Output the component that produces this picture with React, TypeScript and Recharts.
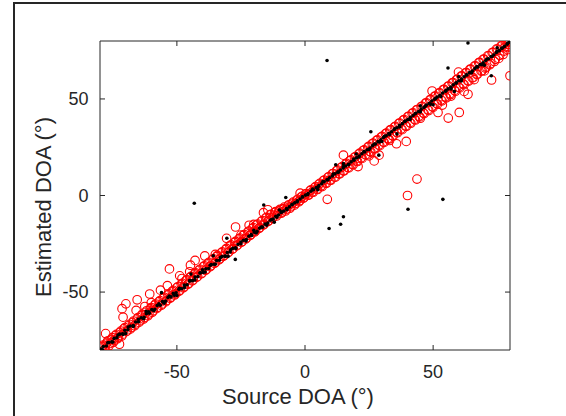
import { Scatter, ScatterChart, XAxis, YAxis } from "recharts";

const TICKS = [-50, 0, 50];
const DOMAIN: [number, number] = [-80, 80];

// red circles hugging the diagonal
const RED_BAND: [number, number][] = [
  [-79.5, -79], [-78.8, -77.5], [-78, -79.5], [-77.2, -76], [-76.5, -77.8], [-75.6, -74.5], [-74.8, -76],
  [-74, -72.5], [-73.2, -74.2], [-72.4, -71], [-71.5, -72.8], [-70.7, -69], [-69.8, -70.5], [-69, -67.5],
  [-68.2, -69.2], [-67.3, -65.8], [-66.5, -67.5], [-65.6, -64], [-64.8, -65.7], [-63.9, -62.2], [-63, -64],
  [-62.2, -60.5], [-61.3, -62.3], [-60.4, -58.6], [-59.6, -60.5], [-58.7, -56.8], [-57.9, -58.6], [-57, -55],
  [-56.1, -56.9], [-55.3, -53.2], [-54.4, -55.1], [-53.5, -51.5], [-52.7, -53.2], [-51.8, -49.6], [-50.9, -51.5],
  [-50.1, -47.8], [-49.2, -49.6], [-48.3, -46], [-47.5, -47.8], [-46.6, -44.2], [-45.7, -46], [-44.9, -42.4],
  [-44, -44.2], [-43.1, -40.5], [-42.3, -42.4], [-41.4, -38.7], [-40.5, -40.5], [-39.7, -36.9], [-38.8, -38.7],
  [-37.9, -35.1], [-37.1, -36.9], [-36.2, -33.3], [-35.3, -35.1], [-34.5, -31.5], [-33.6, -33.3], [-32.7, -29.7],
  [-31.9, -31.5], [-31, -27.9], [-30.1, -29.7], [-29.3, -26.1], [-28.4, -27.9], [-27.5, -24.3], [-26.7, -26.1],
  [-25.8, -22.5], [-24.9, -24.3], [-24.1, -20.7], [-23.2, -22.5], [-22.3, -18.9], [-21.5, -20.7], [-20.6, -17.1],
  [-19.7, -18.9], [-18.9, -15.3], [-18, -17.1], [-17.1, -13.5], [-16.3, -15.3], [-15.4, -11.7], [-14.5, -13.5],
  [-13.7, -10], [-12.8, -11.8], [-11.9, -8.8], [-11.1, -10.6], [-10.2, -8], [-9.3, -9.2], [-8.5, -6.8],
  [-7.6, -8], [-6.7, -5.5], [-5.9, -6.6], [-5, -4], [-4.1, -5], [-3.3, -2.5], [-2.4, -3.3], [-1.5, -0.8],
  [-0.7, -1.5], [0.2, 0.8], [1.1, 0.2], [1.9, 2.4], [2.8, 1.8], [3.7, 4], [4.5, 3.3], [5.4, 5.8], [6.3, 5],
  [7.1, 7.6], [8, 6.5], [8.9, 9.4], [9.7, 8], [10.6, 11.2], [11.5, 9.6], [12.3, 12.8], [13.2, 11.2],
  [14.1, 14.5], [14.9, 12.8], [15.8, 16.2], [16.7, 14.5], [17.5, 18], [18.4, 16.2], [19.3, 19.8], [20.1, 17.8],
  [21, 21.5], [21.9, 19.5], [22.7, 23.3], [23.6, 21.1], [24.5, 25], [25.3, 22.8], [26.2, 26.8], [27.1, 24.4],
  [27.9, 28.5], [28.8, 26.1], [29.7, 30.3], [30.5, 27.7], [31.4, 32], [32.3, 29.4], [33.1, 33.8], [34, 31],
  [34.9, 35.5], [35.7, 32.7], [36.6, 37.3], [37.5, 34.4], [38.3, 39], [39.2, 36], [40.1, 40.8], [40.9, 37.7],
  [41.8, 42.5], [42.7, 39.4], [43.5, 44.3], [44.4, 41], [45.3, 46], [46.1, 42.7], [47, 47.8], [47.9, 44.4],
  [48.7, 49.5], [49.6, 46], [50.5, 51.3], [51.3, 47.7], [52.2, 53], [53.1, 49.4], [53.9, 54.8], [54.8, 51],
  [55.7, 56.5], [56.5, 52.7], [57.4, 58.3], [58.3, 54.4], [59.1, 60], [60, 56], [60.9, 61.8], [61.7, 57.7],
  [62.6, 63.5], [63.5, 59.4], [64.3, 65.3], [65.2, 61], [66.1, 67], [66.9, 62.7], [67.8, 68.8], [68.7, 64.4],
  [69.5, 70.5], [70.4, 66], [71.3, 72.3], [72.1, 67.7], [73, 74], [73.9, 69.4], [74.7, 75.8], [75.6, 71],
  [76.5, 77.5], [77.3, 73], [78.2, 79], [79, 75.5], [79.8, 79.5], [79.2, 78.2], [77.8, 76.5],
];

// second layer of red circles in the band
const RED_BAND_2: [number, number][] = [
  [-79.1, -78.2], [-78.3, -80], [-77.6, -76.9], [-76.9, -75.2], [-76, -76.6], [-75.2, -73.6], [-74.4, -75.1],
  [-73.6, -71.9], [-72.8, -73.5], [-71.9, -70.2], [-71.1, -71.8], [-70.3, -68.4], [-69.4, -70.1], [-68.6, -66.7],
  [-67.7, -68.4], [-66.9, -65], [-66, -66.6], [-65.2, -63.2], [-64.3, -64.9], [-63.5, -61.5], [-62.6, -63.2],
  [-61.8, -59.7], [-60.9, -61.4], [-60, -58], [-59.2, -59.7], [-58.3, -56.2], [-57.5, -57.9], [-56.6, -54.4],
  [-55.7, -56.2], [-54.9, -52.7], [-54, -54.4], [-53.1, -50.9], [-52.3, -52.7], [-51.4, -49.1], [-50.5, -50.9],
  [-49.7, -47.3], [-48.8, -49.1], [-47.9, -45.5], [-47.1, -47.3], [-46.2, -43.7], [-45.3, -45.5], [-44.5, -41.9],
  [-43.6, -43.7], [-42.7, -40.1], [-41.9, -41.9], [-41, -38.2], [-40.1, -40.1], [-39.3, -36.4], [-38.4, -38.2],
  [-37.5, -34.6], [-36.7, -36.4], [-35.8, -32.8], [-34.9, -34.6], [-34.1, -31], [-33.2, -32.8], [-32.3, -29.2],
  [-31.5, -31], [-30.6, -27.4], [-29.7, -29.2], [-28.9, -25.6], [-28, -27.4], [-27.1, -23.8], [-26.3, -25.6],
  [-25.4, -22], [-24.5, -23.8], [-23.7, -20.2], [-22.8, -22], [-21.9, -18.4], [-21.1, -20.2], [-20.2, -16.6],
  [-19.3, -18.4], [-18.5, -14.8], [-17.6, -16.6], [-16.7, -13], [-15.9, -14.8], [-15, -11.4], [-14.1, -13],
  [-13.3, -9.8], [-12.4, -11.2], [-11.5, -8.4], [-10.7, -9.6], [-9.8, -7.2], [-8.9, -8.6], [-8.1, -6],
  [-7.2, -7.2], [-6.3, -4.8], [-5.5, -5.8], [-4.6, -3.4], [-3.7, -4.2], [-2.9, -2], [-2, -2.6], [-1.1, -0.4],
  [-0.3, -0.9], [0.6, 0.9], [2.3, 2.9], [4.1, 4.6], [5.8, 6.3], [7.5, 8], [9.3, 9.7], [11, 11.4], [12.7, 13.2],
  [14.5, 14.9], [16.2, 16.7], [17.9, 18.4], [19.7, 20.1], [21.4, 21.9], [23.1, 23.6], [24.9, 25.4], [26.6, 27.1],
  [28.3, 28.8], [30.1, 30.6], [31.8, 32.3], [33.5, 34.1], [35.3, 35.8], [37, 37.5], [38.7, 39.3], [40.5, 41],
  [42.2, 42.8], [43.9, 44.5], [45.7, 46.2], [47.4, 48], [49.1, 49.7], [50.9, 51.5], [52.6, 53.2], [54.3, 54.9],
  [56.1, 56.7], [57.8, 58.4], [59.5, 60.2], [61.3, 61.9], [63, 63.6], [64.7, 65.4], [66.5, 67.1], [68.2, 68.9],
  [69.9, 70.6], [71.7, 72.3], [73.4, 74.1], [75.1, 75.8], [76.9, 77.6], [78.6, 79.3],
  [1.5, 0.2], [3.2, 1.7], [4.9, 3.1], [6.7, 4.6], [8.4, 6.3], [10.1, 7.9], [11.9, 9.5], [13.6, 11.2],
  [15.3, 12.8], [17.1, 14.3], [18.8, 15.9], [20.5, 17.6], [22.3, 19.2], [24, 20.9], [25.7, 22.5], [27.5, 24.2],
  [29.2, 25.8], [30.9, 27.5], [32.7, 29.2], [34.4, 30.8], [36.1, 32.5], [37.9, 34.1], [39.6, 35.8], [41.3, 37.4],
  [43.1, 39.1], [44.8, 40.7], [46.5, 42.4], [48.3, 44], [50, 45.7], [51.7, 47.3], [53.5, 49], [55.2, 50.6],
  [56.9, 52.3], [58.7, 54], [60.4, 55.7], [62.1, 57.4], [63.9, 59.2], [65.6, 61], [67.3, 62.8], [69.1, 64.6],
  [70.8, 66.5], [72.5, 68.4], [74.3, 70.5], [76, 72.6], [77.7, 74.8], [79.4, 77],
];

// red circles further off the diagonal
const RED_OUTLIERS: [number, number][] = [
  [80, 62], [72.8, 59.8], [63.6, 52.4], [62.1, 53.9], [60.2, 43], [55.9, 40.1], [51.9, 43], [53.6, 46.8],
  [49.6, 54.1], [59.9, 63.9], [40, 0], [43.7, 8.5], [39.5, 28], [35.7, 26.8], [28.9, 20.9], [27, 17.9],
  [20.7, 15], [15, 20.9], [8.7, -2], [66, 60], [70, 64.5], [57, 51.5], [45, 40], [33, 28.5], [25, 20.5],
  [-52.9, -38], [-27.1, -16.3], [-30.6, -22.2], [-39.1, -31.3], [-44.7, -36.1], [-42.9, -33.6],
  [-65.5, -54], [-69.9, -56.1], [-71.4, -58.6], [-71, -63], [-65.9, -59.5], [-60.6, -51], [-56.4, -49],
  [-53.7, -46.7], [-21.8, -15.4], [-16.2, -8.9], [-14.5, -7.4], [-1.9, 1.2], [-48.9, -41.6],
  [-34.3, -31.6], [-77.8, -71.5], [-72.4, -77], [-60, -55.5], [-48, -43], [-35, -30.5], [-25, -20.5],
  [-20, -15], [-62.5, -57.5], [-45, -39.5],
];

// black dots forming the central line
const BLACK_LINE: [number, number][] = [
  [-79.6, -79.5], [-78.7, -78.2], [-77.5, -77.9], [-76.6, -76.1], [-75.4, -75.8], [-74.5, -74], [-73.4, -73.6],
  [-72.3, -71.8], [-71.2, -71.6], [-70.3, -69.8], [-69.1, -69.5], [-68.2, -67.6], [-67, -67.3], [-66.1, -65.5],
  [-65, -65.4], [-63.9, -63.3], [-62.8, -63.1], [-61.9, -61.2], [-60.7, -61], [-59.8, -59.1], [-58.6, -58.9],
  [-57.7, -57], [-56.5, -56.8], [-55.6, -54.9], [-54.4, -54.7], [-53.5, -52.8], [-52.3, -52.5], [-51.4, -50.7],
  [-50.3, -50.4], [-49.2, -48.5], [-48.1, -48.3], [-47.1, -46.4], [-46, -46.2], [-45, -44.3], [-43.9, -44.1],
  [-42.9, -42.2], [-41.8, -42], [-40.8, -40], [-39.7, -39.9], [-38.7, -37.9], [-37.6, -37.8], [-36.6, -35.8],
  [-35.5, -35.6], [-34.5, -33.7], [-33.4, -33.5], [-32.4, -31.6], [-31.3, -31.4], [-30.3, -29.5], [-29.2, -29.2],
  [-28.2, -27.4], [-27.1, -27.1], [-26.1, -25.3], [-25, -25], [-24, -23.2], [-22.9, -22.8], [-21.9, -21.1],
  [-20.8, -20.7], [-19.8, -19], [-18.7, -18.6], [-17.7, -16.9], [-16.6, -16.4], [-15.6, -14.8], [-14.5, -14.3],
  [-13.5, -12.8], [-12.4, -12.2], [-11.4, -10.8], [-10.3, -10.1], [-9.3, -8.8], [-8.2, -8], [-7.2, -6.8],
  [-6.1, -5.9], [-5.1, -4.8], [-4, -3.8], [-3, -2.8], [-1.9, -1.8], [-0.9, -0.8], [0.2, 0.2], [1.2, 1],
  [2.3, 2.2], [3.3, 3], [4.4, 4.1], [5.4, 5.1], [6.5, 6.1], [7.5, 7.1], [8.6, 8.1], [9.6, 9.2], [10.7, 10.1],
  [11.7, 11.2], [12.8, 12.1], [13.8, 13.2], [14.9, 14.2], [15.9, 15.3], [17, 16.2], [18, 17.4], [19.1, 18.3],
  [20.1, 19.5], [21.2, 20.4], [22.2, 21.6], [23.3, 22.5], [24.3, 23.7], [25.4, 24.6], [26.4, 25.8], [27.5, 26.7],
  [28.5, 27.9], [29.6, 28.8], [30.6, 30], [31.7, 30.9], [32.7, 32.1], [33.8, 33], [34.8, 34.2], [35.9, 35.1],
  [36.9, 36.3], [38, 37.2], [39, 38.4], [40.1, 39.3], [41.1, 40.5], [42.2, 41.4], [43.2, 42.6], [44.3, 43.5],
  [45.3, 44.7], [46.4, 45.6], [47.4, 46.8], [48.5, 47.7], [49.5, 48.9], [50.6, 49.8], [51.6, 51], [52.7, 51.9],
  [53.7, 53.1], [54.8, 54], [55.8, 55.2], [56.9, 56.1], [57.9, 57.3], [59, 58.2], [60, 59.4], [61.1, 60.3],
  [62.1, 61.5], [63.2, 62.4], [64.2, 63.6], [65.3, 64.5], [66.3, 65.7], [67.4, 66.6], [68.4, 67.8], [69.5, 68.7],
  [70.5, 69.9], [71.6, 70.8], [72.6, 72], [73.7, 72.9], [74.7, 74.1], [75.8, 75], [76.8, 76.2], [77.9, 77.2],
  [78.9, 78.3], [79.7, 79.4],
];

// black dots thickening the line
const BLACK_LINE_2: [number, number][] = [
  [-79, -79.9], [-77, -76.3], [-75, -75.9], [-73, -72.2], [-71, -71.9], [-69, -68.1], [-67, -67.8], [-65, -64.1],
  [-63, -63.8], [-61, -60.2], [-59, -59.7], [-57, -56.1], [-55, -55.8], [-53, -52.1], [-51, -51.7], [-49, -48.1],
  [-47, -47.7], [-45, -44.1], [-43, -43.7], [-41, -40.1], [-39, -39.6], [-37, -36.1], [-35, -35.6], [-33, -32.1],
  [-31, -31.5], [-29, -28.1], [-27, -27.5], [-25, -24.1], [-23, -23.5], [-21, -20.2], [-19, -19.4], [-17, -16.3],
  [-15, -15.4], [-13, -12.4], [-11, -11.3], [-9, -8.5], [-7, -7.3], [-5, -4.6], [-3, -3.3], [-1, -0.7], [1, 0.4],
  [3, 3.3], [5, 4.3], [7, 7.2], [9, 8.2], [11, 11.1], [13, 12.1], [15, 15], [17, 16], [19, 18.9], [21, 19.9],
  [23, 22.8], [25, 23.8], [27, 26.7], [29, 27.7], [31, 30.6], [33, 31.6], [35, 34.5], [37, 35.5], [39, 38.4],
  [41, 39.4], [43, 42.3], [45, 43.3], [47, 46.3], [49, 47.2], [51, 50.3], [53, 51.2], [55, 54.3], [57, 55.2],
  [59, 58.4], [61, 59.3], [63, 62.5], [65, 63.5], [67, 66.6], [69, 67.7], [71, 70.7], [73, 72], [75, 74.7],
  [77, 76.4], [79, 78.7],
];

// stray black dots
const BLACK_OUTLIERS: [number, number][] = [
  [8.6, 69.9], [63.6, 79], [55.8, 66], [72.7, 62], [25.7, 33], [28.8, 20.9], [35.9, 31.9], [58.3, 53.9],
  [-43.2, -4], [9.4, -17.1], [13.9, -14.9], [15, -11], [40.2, -7.1], [53.8, -2], [-16.1, -4.9], [-7.5, -1],
  [-27.2, -33.1], [-30.5, -22.1], [12, 15.9], [-44.5, -40.7], [-56, -50.3], [-70, -71.5], [-62, -60],
  [-50, -51.8], [-40, -38.5], [-30, -31.5], [-20, -18], [-12, -13.8], [-10, -7.5], [5, 3], [15, 16.5],
  [20, 21.5], [30, 28], [45, 46.5], [50, 47], [60, 61.5], [70, 67.5], [75, 76.5], [-35.8, -31.2],
];

const redData = [...RED_BAND, ...RED_BAND_2, ...RED_OUTLIERS].map(([x, y]) => ({ x, y }));
const blackData = [...BLACK_LINE, ...BLACK_LINE_2, ...BLACK_OUTLIERS].map(([x, y]) => ({ x, y }));

const FONT = '"Liberation Sans", Arial, Helvetica, sans-serif';
const INK = "#262626";
const TICK_LEN = 5;

function RedRing(props: any) {
  return <circle cx={props.cx} cy={props.cy} r={4.3} fill="none" stroke="#ff0000" strokeWidth={1.1} />;
}

function BlackDot(props: any) {
  return <circle cx={props.cx} cy={props.cy} r={1.8} fill="#000" />;
}

function BottomTick(props: any) {
  const { x, y, payload } = props;
  return (
    <g>
      <line x1={x} y1={y} x2={x} y2={y - TICK_LEN} stroke={INK} />
      <text x={x} y={y + 28} textAnchor="middle" fontSize={18} fontFamily={FONT} fill={INK}>
        {payload.value}
      </text>
    </g>
  );
}

function LeftTick(props: any) {
  const { x, y, payload } = props;
  return (
    <g>
      <line x1={x} y1={y} x2={x + TICK_LEN} y2={y} stroke={INK} />
      <text x={x - 11.5} y={y + 6.4} textAnchor="end" fontSize={18} fontFamily={FONT} fill={INK}>
        {payload.value}
      </text>
    </g>
  );
}

function TopTick(props: any) {
  const { x, y } = props;
  return <line x1={x} y1={y} x2={x} y2={y + TICK_LEN} stroke={INK} />;
}

function RightTick(props: any) {
  const { x, y } = props;
  return <line x1={x} y1={y} x2={x - TICK_LEN} y2={y} stroke={INK} />;
}

export default function App() {
  return (
    <div style={{ position: "absolute", left: 0, top: 0, width: 566, height: 416, background: "#fff" }}>
      <div
        style={{
          position: "absolute",
          left: 13,
          top: 2,
          width: 553,
          height: 414,
          boxSizing: "border-box",
          borderTop: `2px solid ${INK}`,
          borderLeft: `2px solid ${INK}`,
        }}
      />
      <div style={{ position: "absolute", left: 0, top: 0 }}>
        <ScatterChart width={566} height={416} margin={{ top: 40, right: 50, bottom: 26, left: 40 }}>
          <XAxis
            xAxisId="b"
            type="number"
            dataKey="x"
            domain={DOMAIN}
            ticks={TICKS}
            height={40}
            tickSize={0}
            tickMargin={0}
            tick={<BottomTick />}
            axisLine={{ stroke: INK }}
            allowDataOverflow
          />
          <XAxis
            xAxisId="t"
            orientation="top"
            type="number"
            dataKey="x"
            domain={DOMAIN}
            ticks={TICKS}
            height={1}
            tickSize={0}
            tickMargin={0}
            tick={<TopTick />}
            axisLine={{ stroke: INK }}
            allowDataOverflow
          />
          <YAxis
            yAxisId="l"
            type="number"
            dataKey="y"
            domain={DOMAIN}
            ticks={TICKS}
            width={60}
            tickSize={0}
            tickMargin={0}
            tick={<LeftTick />}
            axisLine={{ stroke: INK }}
            allowDataOverflow
          />
          <YAxis
            yAxisId="r"
            orientation="right"
            type="number"
            dataKey="y"
            domain={DOMAIN}
            ticks={TICKS}
            width={6}
            tickSize={0}
            tickMargin={0}
            tick={<RightTick />}
            axisLine={{ stroke: INK }}
            allowDataOverflow
          />
          <Scatter xAxisId="b" yAxisId="l" data={redData} shape={<RedRing />} isAnimationActive={false} />
          <Scatter xAxisId="t" yAxisId="r" data={blackData} shape={<BlackDot />} isAnimationActive={false} />
        </ScatterChart>
      </div>
      <div
        style={{
          position: "absolute",
          left: 298,
          top: 396.7,
          transform: "translate(-50%, -50%)",
          fontFamily: FONT,
          fontSize: 22,
          lineHeight: "22px",
          color: INK,
          whiteSpace: "nowrap",
        }}
      >
        Source DOA (°)
      </div>
      <div
        style={{
          position: "absolute",
          left: 43.5,
          top: 207,
          transform: "translate(-50%, -50%) rotate(-90deg)",
          fontFamily: FONT,
          fontSize: 22,
          lineHeight: "22px",
          color: INK,
          whiteSpace: "nowrap",
        }}
      >
        Estimated DOA (°)
      </div>
    </div>
  );
}
